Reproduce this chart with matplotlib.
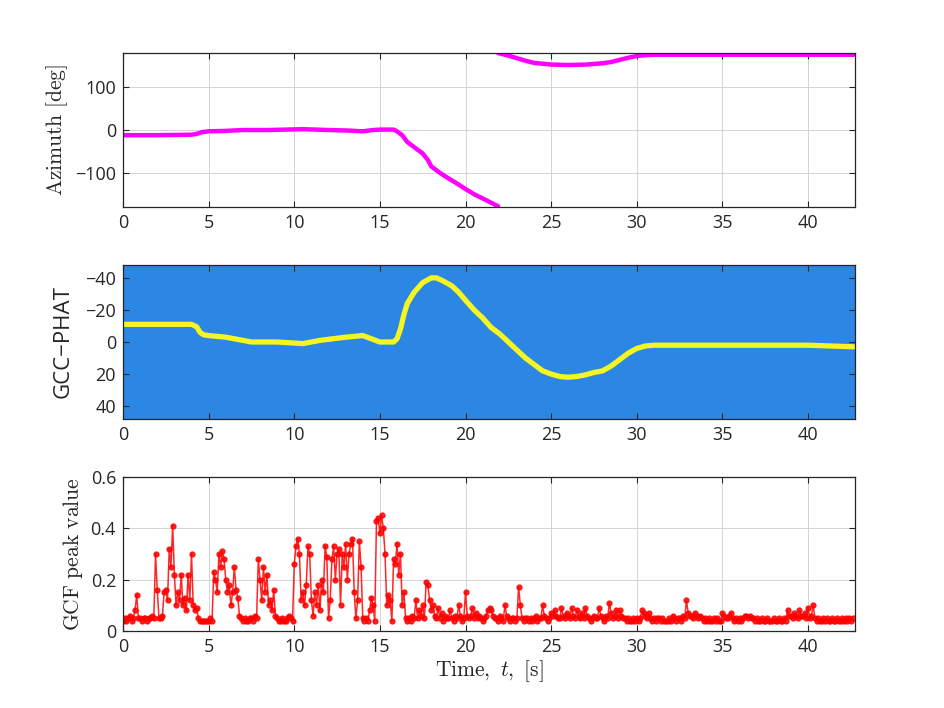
import numpy as np
import matplotlib
matplotlib.use('Agg')
import matplotlib.pyplot as plt

plt.rcParams['mathtext.fontset'] = 'cm'
plt.rcParams['font.family'] = ['Open Sans', 'DejaVu Sans']

# Azimuth track (deg), NaN marks the wrap from -180 to +180
az_t = [0, 2, 4, 4.3, 4.6, 5, 6, 7, 8.5, 10.5, 12, 13, 14, 14.6, 15, 15.8,
        16.0, 16.3, 16.6, 17.0, 17.5, 17.8, 18.0, 18.5, 19.0, 19.5, 20.0,
        20.5, 21.0, 21.5, 21.9, 21.9, 21.9,
        22.5, 23.0, 23.5, 24.0, 25.0, 26.0, 27.0, 28.0, 28.5, 29.0, 29.5,
        30.0, 30.5, 31.0, 35.0, 40.0, 42.7]
az_deg = [-12, -12, -11, -9, -5, -3, -2, 0, 0, 2, 0, -1, -3, 0, 1, 1,
          -3, -12, -28, -40, -55, -70, -85, -100, -113, -125, -138,
          -150, -160, -170, -178, np.nan, 180,
          174, 168, 162, 157, 153, 152, 153, 156, 159, 164, 169,
          173, 175, 176, 176, 176, 176]

# GCC-PHAT peak lag track
lag_t = [0, 2, 4, 4.3, 4.5, 4.7, 5, 6, 7, 7.5, 9, 10.5, 11.5, 13, 14,
         14.5, 15, 15.8, 16.0, 16.2, 16.4, 16.6, 17.0, 17.5, 18.0, 18.3,
         18.7, 19.2, 19.6, 20.0, 20.5, 21.0, 21.5, 22.0, 22.5, 23.0, 23.5,
         24.0, 24.5, 25.0, 25.5, 26.0, 26.5, 27.0, 27.5, 28.0, 28.5, 29.0,
         29.5, 30.0, 30.5, 31.0, 32, 36, 40, 42.7]
lag_val = [-11, -11, -11, -9.5, -6, -4.5, -4, -3, -1, 0, 0, 1, -1, -3, -4,
           -2, 0, 0, -2, -8, -17, -24, -31, -37, -40, -40,
           -38, -35, -31, -26, -20, -15, -9, -5, 0, 5, 10,
           14, 18, 20, 21.5, 22, 21.5, 20.5, 19, 18, 15, 11,
           7, 4, 2.5, 2, 2, 2, 2, 3]

# GCF peak value, one value every 0.1 s
gcf_val = [
    0.04, 0.05, 0.04, 0.05, 0.06, 0.04, 0.05, 0.08, 0.14, 0.05,
    0.05, 0.04, 0.05, 0.05, 0.04, 0.05, 0.05, 0.06, 0.05, 0.30,
    0.16, 0.05, 0.05, 0.06, 0.15, 0.16, 0.12, 0.32, 0.25, 0.41,
    0.22, 0.10, 0.15, 0.12, 0.22, 0.10, 0.13, 0.08, 0.22, 0.12,
    0.30, 0.10, 0.08, 0.09, 0.05, 0.04, 0.04, 0.04, 0.04, 0.04,
    0.04, 0.05, 0.04, 0.23, 0.20, 0.15, 0.30, 0.25, 0.31, 0.28,
    0.20, 0.15, 0.18, 0.10, 0.15, 0.25, 0.16, 0.13, 0.06, 0.05,
    0.04, 0.05, 0.04, 0.04, 0.05, 0.05, 0.04, 0.06, 0.05, 0.28,
    0.20, 0.12, 0.25, 0.15, 0.22, 0.10, 0.12, 0.08, 0.16, 0.06,
    0.05, 0.04, 0.04, 0.05, 0.04, 0.04, 0.05, 0.06, 0.05, 0.04,
    0.26, 0.33, 0.36, 0.30, 0.12, 0.15, 0.10, 0.18, 0.33, 0.30,
    0.12, 0.06, 0.15, 0.10, 0.18, 0.08, 0.20, 0.15, 0.33, 0.29,
    0.05, 0.12, 0.28, 0.33, 0.20, 0.30, 0.32, 0.10, 0.30, 0.25,
    0.34, 0.20, 0.30, 0.34, 0.36, 0.15, 0.05, 0.12, 0.35, 0.25,
    0.05, 0.04, 0.05, 0.04, 0.08, 0.13, 0.10, 0.04, 0.43, 0.44,
    0.38, 0.45, 0.40, 0.30, 0.10, 0.14, 0.12, 0.04, 0.28, 0.26,
    0.34, 0.22, 0.30, 0.10, 0.15, 0.05, 0.04, 0.05, 0.04, 0.06,
    0.05, 0.12, 0.05, 0.08, 0.06, 0.10, 0.05, 0.19, 0.18, 0.12,
    0.08, 0.10, 0.06, 0.05, 0.09, 0.05, 0.07, 0.04, 0.06, 0.05,
    0.05, 0.08, 0.05, 0.04, 0.06, 0.05, 0.10, 0.06, 0.04, 0.05,
    0.15, 0.06, 0.05, 0.06, 0.09, 0.05, 0.07, 0.05, 0.06, 0.05,
    0.04, 0.05, 0.06, 0.08, 0.09, 0.08, 0.06, 0.05, 0.05, 0.04,
    0.06, 0.05, 0.04, 0.10, 0.06, 0.05, 0.04, 0.05, 0.05, 0.04,
    0.05, 0.17, 0.10, 0.05, 0.04, 0.05, 0.05, 0.04, 0.05, 0.04,
    0.05, 0.06, 0.04, 0.05, 0.05, 0.10, 0.06, 0.05, 0.04, 0.05,
    0.07, 0.06, 0.08, 0.06, 0.05, 0.05, 0.09, 0.06, 0.05, 0.07,
    0.06, 0.05, 0.09, 0.06, 0.05, 0.08, 0.06, 0.05, 0.07, 0.05,
    0.09, 0.06, 0.05, 0.04, 0.05, 0.06, 0.05, 0.05, 0.09, 0.06,
    0.05, 0.04, 0.06, 0.05, 0.11, 0.07, 0.05, 0.06, 0.08, 0.05,
    0.08, 0.06, 0.05, 0.05, 0.04, 0.05, 0.04, 0.04, 0.05, 0.04,
    0.05, 0.04, 0.05, 0.08, 0.07, 0.06, 0.05, 0.07, 0.05, 0.04,
    0.05, 0.04, 0.05, 0.05, 0.04, 0.05, 0.04, 0.04, 0.04, 0.05,
    0.04, 0.06, 0.05, 0.04, 0.05, 0.05, 0.04, 0.06, 0.05, 0.12,
    0.07, 0.06, 0.06, 0.05, 0.07, 0.06, 0.05, 0.06, 0.05, 0.04,
    0.05, 0.04, 0.05, 0.04, 0.04, 0.05, 0.04, 0.05, 0.04, 0.04,
    0.07, 0.06, 0.05, 0.05, 0.06, 0.07, 0.05, 0.04, 0.05, 0.04,
    0.05, 0.04, 0.05, 0.06, 0.06, 0.05, 0.06, 0.05, 0.05, 0.04,
    0.05, 0.04, 0.04, 0.05, 0.04, 0.04, 0.05, 0.04, 0.04, 0.04,
    0.05, 0.04, 0.04, 0.05, 0.04, 0.04, 0.05, 0.04, 0.08, 0.06,
    0.06, 0.05, 0.07, 0.06, 0.05, 0.08, 0.06, 0.06, 0.07, 0.05,
    0.09, 0.05, 0.06, 0.10, 0.05, 0.04, 0.05, 0.04, 0.04, 0.05,
    0.04, 0.05, 0.04, 0.04, 0.05, 0.04, 0.04, 0.05, 0.04, 0.04,
    0.05, 0.04, 0.05, 0.04, 0.05, 0.04, 0.05,
]
gcf_t = np.arange(len(gcf_val)) * 0.1

t_max = 42.74
text_col = '#262626'
xticks = [0, 5, 10, 15, 20, 25, 30, 35, 40]

fig = plt.figure(figsize=(9.44, 7.08), dpi=100)
left, width, height = 0.1303, 0.7754, 0.2175
ax1 = fig.add_axes([left, 0.7076, width, height])
ax2 = fig.add_axes([left, 0.4082, width, height])
ax3 = fig.add_axes([left, 0.1088, width, height])


def style(ax, grid=True):
    ax.set_xlim(0, t_max)
    ax.set_xticks(xticks)
    ax.tick_params(direction='in', top=True, right=True, labelsize=13,
                   colors=text_col, length=4, width=0.8, pad=5)
    for sp in ax.spines.values():
        sp.set_color(text_col)
        sp.set_linewidth(0.9)
    if grid:
        ax.grid(True, color='#d4d4d4', linewidth=0.7)
        ax.set_axisbelow(True)


# Top: azimuth
ax1.plot(az_t, az_deg, color='#ff00ff', linewidth=3.2, solid_capstyle='round')
ax1.set_ylim(-180, 180)
ax1.set_yticks([-100, 0, 100])
ax1.set_yticklabels(['\u2212100', '0', '100'])
ax1.set_ylabel(r'$\mathrm{Azimuth\ [deg]}$', fontsize=15.5, color=text_col)
style(ax1)

# Middle: GCC-PHAT
ax2.set_facecolor('#2b87e3')
ax2.plot(lag_t, lag_val, color='#f5f522', linewidth=3.8, solid_capstyle='round')
ax2.set_ylim(48, -48)
ax2.set_yticks([-40, -20, 0, 20, 40])
ax2.set_yticklabels(['\u221240', '\u221220', '0', '20', '40'])
ax2.set_ylabel('GCC\u2212PHAT', fontsize=16, color=text_col, labelpad=8)
style(ax2, grid=False)

# Bottom: GCF peak value
ax3.plot(gcf_t, gcf_val, color='red', linewidth=1.1, marker='.',
         markersize=7, alpha=0.85)
ax3.set_ylim(0, 0.6)
ax3.set_yticks([0, 0.2, 0.4, 0.6])
ax3.set_yticklabels(['0', '0.2', '0.4', '0.6'])
ax3.set_ylabel(r'$\mathrm{GCF\ peak\ value}$', fontsize=15.5, color=text_col)
ax3.set_xlabel(r'$\mathrm{Time,}\ t\mathrm{,\ [s]}$', fontsize=15.5,
               color=text_col, labelpad=2)
style(ax3)

fig.savefig('out.png', dpi=100)
